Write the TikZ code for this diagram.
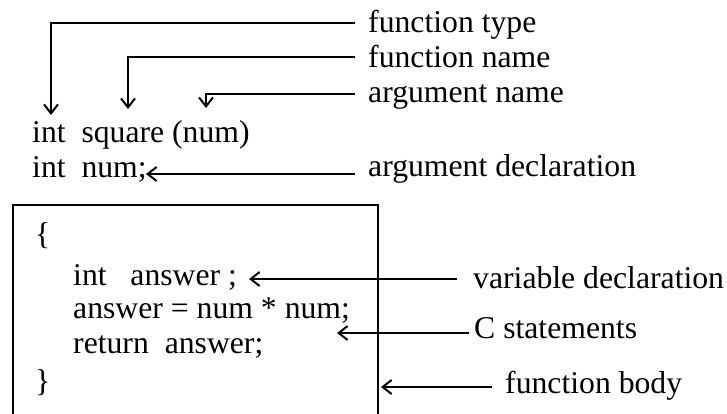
\documentclass[tikz,border=0pt]{standalone}
\usepackage{fontspec}
\setmainfont{Liberation Serif}
\usetikzlibrary{arrows.meta}
\begin{document}
\begin{tikzpicture}[x=1pt,y=-1pt,
  txt/.style={anchor=base west, inner sep=0pt, font=\fontsize{31.7}{38}\selectfont},
  pointer/.style={line width=2pt, line join=miter,
    -{Straight Barb[length=9pt,width=14pt]}},
  frame/.style={line width=2pt}]
\useasboundingbox (0,0) rectangle (727,413);
\clip (0,0) rectangle (727,413);

% function header
\node[txt] (hdr)  at (32,142) {int\ \ square (num)};
\node[txt] (decl) at (32,177) {int\ \ num;};

% labels on the right
\node[txt] (ltype) at (368,32)  {function type};
\node[txt] (lname) at (368,67)  {function name};
\node[txt] (larg)  at (368,102) {argument name};
\node[txt] (ldecl) at (368,176) {argument declaration};

% function body frame and code
\draw[frame] (13,430) |- (378,205) -- (378,430);
\node[txt] (lbr)  at (35,244) {\{};
\node[txt] (c1)   at (73,285) {int\ \ \ answer ;};
\node[txt] (c2)   at (73,318) {answer = num * num;};
\node[txt] (c3)   at (73,353) {return\ \ answer;};
\node[txt] (rbr)  at (35,391) {\}};

\node[txt] (lvar)  at (473,288) {variable declaration};
\node[txt] (lstmt) at (474,338) {C statements};
\node[txt] (lbody) at (505,393) {function body};

% connector end points
\coordinate (typeS) at (355,23);
\coordinate (typeT) at (51,115);
\coordinate (nameS) at (355,57);
\coordinate (nameT) at (128,109);
\coordinate (argS)  at (355,94);
\coordinate (argT)  at (206,108);
\coordinate (declS) at (355,174);
\coordinate (declT) at (146,174);
\coordinate (varS)  at (457,279);
\coordinate (varT)  at (249,279);
\coordinate (stmtS) at (469,333);
\coordinate (stmtT) at (337,333);
\coordinate (bodyS) at (492,387);
\coordinate (bodyT) at (381,387);

% connectors
\draw[pointer] (typeS) -| (typeT);
\draw[pointer] (nameS) -| (nameT);
\draw[pointer] (argS)  -| (argT);
\draw[pointer] (declS) -- (declT);
\draw[pointer] (varS)  -- (varT);
\draw[pointer] (stmtS) -- (stmtT);
\draw[pointer] (bodyS) -- (bodyT);
\end{tikzpicture}
\end{document}
